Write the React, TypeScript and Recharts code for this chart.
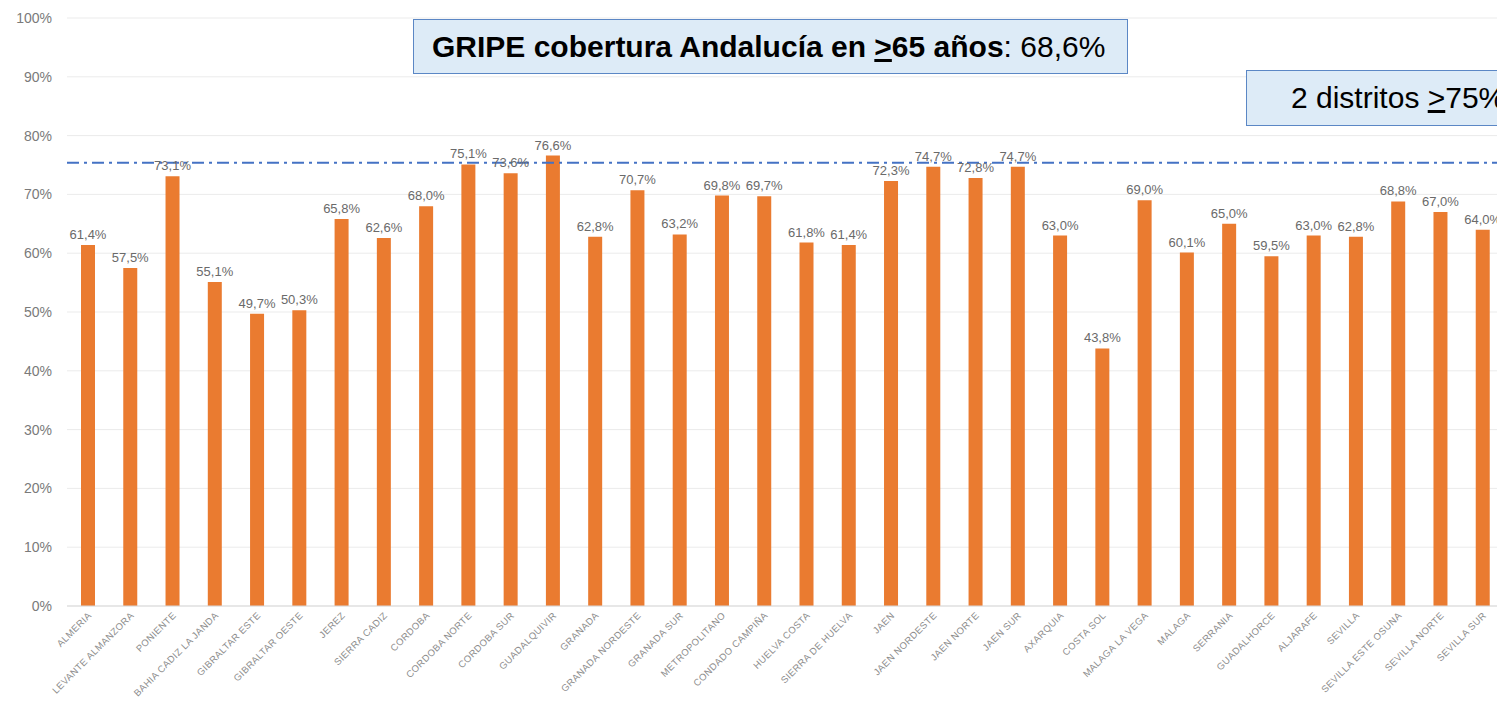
import React from "react";
import {
  BarChart,
  Bar,
  XAxis,
  YAxis,
  CartesianGrid,
  ReferenceLine,
  LabelList,
} from "recharts";

const districts = [
  "ALMERIA",
  "LEVANTE ALMANZORA",
  "PONIENTE",
  "BAHIA CADIZ LA JANDA",
  "GIBRALTAR ESTE",
  "GIBRALTAR OESTE",
  "JEREZ",
  "SIERRA CADIZ",
  "CORDOBA",
  "CORDOBA NORTE",
  "CORDOBA SUR",
  "GUADALQUIVIR",
  "GRANADA",
  "GRANADA NORDESTE",
  "GRANADA SUR",
  "METROPOLITANO",
  "CONDADO CAMPIÑA",
  "HUELVA COSTA",
  "SIERRA DE HUELVA",
  "JAEN",
  "JAEN NORDESTE",
  "JAEN NORTE",
  "JAEN SUR",
  "AXARQUIA",
  "COSTA SOL",
  "MALAGA LA VEGA",
  "MALAGA",
  "SERRANIA",
  "GUADALHORCE",
  "ALJARAFE",
  "SEVILLA",
  "SEVILLA ESTE OSUNA",
  "SEVILLA NORTE",
  "SEVILLA SUR",
];

const coverage = [
  61.4, 57.5, 73.1, 55.1, 49.7, 50.3, 65.8, 62.6, 68.0, 75.1, 73.6, 76.6, 62.8,
  70.7, 63.2, 69.8, 69.7, 61.8, 61.4, 72.3, 74.7, 72.8, 74.7, 63.0, 43.8, 69.0,
  60.1, 65.0, 59.5, 63.0, 62.8, 68.8, 67.0, 64.0,
];

const yTicks = [0, 10, 20, 30, 40, 50, 60, 70, 80, 90, 100];
const targetLine = 75.4;

const data = districts.map((name, i) => ({ name, value: coverage[i] }));

const fmtPct = (v: number) => v.toFixed(1).replace(".", ",") + "%";

function DistrictTick(props: any) {
  const { x, payload } = props;
  const tx = x + 4;
  const ty = 616;
  return (
    <text
      x={tx}
      y={ty}
      textAnchor="end"
      transform={`rotate(-45, ${tx}, ${ty})`}
      fontSize={9.5}
      fontFamily="Liberation Sans, Arial, sans-serif"
      fill="#8c8c8c"
      letterSpacing={0.4}
    >
      {payload.value}
    </text>
  );
}

const boxStyle: React.CSSProperties = {
  position: "absolute",
  background: "#DDEBF7",
  border: "1px solid #5B87C5",
  boxSizing: "border-box",
  fontFamily: "Liberation Sans, Arial, sans-serif",
  fontSize: 30,
  color: "#000",
  display: "flex",
  alignItems: "center",
  whiteSpace: "nowrap",
};

export default function App() {
  return (
    <div
      style={{
        position: "absolute",
        left: 0,
        top: 0,
        width: 1497,
        height: 705,
        overflow: "hidden",
        background: "#fff",
      }}
    >
      <BarChart
        width={1510}
        height={705}
        data={data}
        margin={{ top: 18, right: 6, left: 0, bottom: 0 }}
      >
        <CartesianGrid vertical={false} stroke="#ebebeb" />
        <XAxis
          dataKey="name"
          interval={0}
          tickLine={false}
          axisLine={{ stroke: "#d9d9d9" }}
          height={99}
          tick={<DistrictTick />}
        />
        <YAxis
          domain={[0, 100]}
          ticks={yTicks}
          tickFormatter={(v: number) => `${v}%`}
          axisLine={false}
          tickLine={false}
          width={67}
          tickMargin={9}
          tick={{
            fontSize: 14,
            fill: "#7a7a7a",
            fontFamily: "Liberation Sans Narrow, Arial Narrow, sans-serif",
          }}
        />
        <ReferenceLine
          y={targetLine}
          stroke="#4472C4"
          strokeWidth={2}
          strokeDasharray="12 5 3 5"
        />
        <Bar dataKey="value" fill="#EA7B30" barSize={14} isAnimationActive={false}>
          <LabelList
            dataKey="value"
            position="top"
            offset={6}
            formatter={(v: any) => fmtPct(Number(v))}
            fontSize={13}
            fill="#6a6a6a"
            fontFamily="Liberation Sans Narrow, Arial Narrow, sans-serif"
          />
        </Bar>
      </BarChart>

      <div style={{ ...boxStyle, left: 413, top: 19, width: 715, height: 55, paddingLeft: 18 }}>
        <span>
          <b>
            GRIPE cobertura Andalucía en <u>&gt;</u>65 años
          </b>
          : 68,6%
        </span>
      </div>
      <div style={{ ...boxStyle, left: 1246, top: 70, width: 300, height: 56, paddingLeft: 44 }}>
        <span>
          2 distritos <u>&gt;</u>75%
        </span>
      </div>
    </div>
  );
}
